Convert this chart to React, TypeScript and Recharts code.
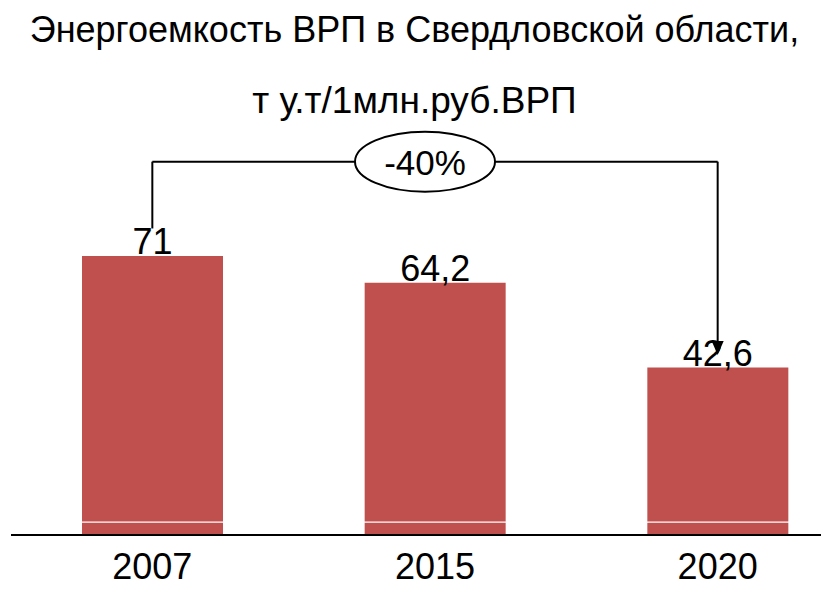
import React from 'react';
import { BarChart, Bar, XAxis, YAxis, LabelList, ReferenceLine, ReferenceDot } from 'recharts';

const years = ['2007', '2015', '2020'];
const intensity = [71, 64.2, 42.6];
const changeLabel = '-40%';
const titleLines = ['Энергоемкость ВРП в Свердловской области,', 'т у.т/1млн.руб.ВРП'];

const data = years.map((year, i) => ({ year, value: intensity[i] }));

const FONT = '"Liberation Sans", Arial, sans-serif';
const BAR_COLOR = '#C0504D';

const formatValue = (v: number) => String(v).replace('.', ',');

const ValueLabel = (props: any) => {
  const { x, y, width, value } = props;
  return (
    <text x={x + width / 2} y={y - 2} textAnchor="middle" fontSize={36} fontFamily={FONT} fill="#000">
      {formatValue(value)}
    </text>
  );
};

const Badge = (props: any) => {
  const { cx, cy } = props;
  const x = cx - 10;
  return (
    <g>
      <ellipse cx={x} cy={cy} rx={70} ry={30} fill="#fff" stroke="#000" strokeWidth={2} />
      <text x={x} y={cy + 13} textAnchor="middle" fontSize={35} fontFamily={FONT} fill="#000">
        {changeLabel}
      </text>
    </g>
  );
};

const ArrowHead = (props: any) => {
  const { cx, cy } = props;
  return <polygon points={`${cx - 6},${cy - 14} ${cx + 6},${cy - 14} ${cx},${cy}`} fill="#000" />;
};

function App() {
  return (
    <div style={{ position: 'relative', width: 821, height: 585, overflow: 'hidden' }}>
      <svg width={821} height={140} style={{ position: 'absolute', left: 0, top: 0 }}>
        <text x={406.5} y={34} textAnchor="middle" fontSize={36} fontFamily={FONT} fill="#000">
          {titleLines[0]}
        </text>
        <text x={406.5} y={105} textAnchor="middle" fontSize={37} fontFamily={FONT} fill="#000">
          {titleLines[1]}
        </text>
      </svg>
      <BarChart width={851} height={585} data={data} margin={{ top: 134, right: 0, bottom: 0, left: 3 }}>
        <XAxis
          dataKey="year"
          height={58}
          tickSize={0}
          tickMargin={18}
          tickLine={false}
          axisLine={{ stroke: '#000', strokeWidth: 2 }}
          tick={{ fill: '#000', fontSize: 36, fontFamily: FONT }}
        />
        <YAxis hide domain={[0, 100]} />
        <Bar dataKey="value" fill={BAR_COLOR} barSize={141} isAnimationActive={false}>
          <LabelList dataKey="value" content={ValueLabel} />
        </Bar>
        <ReferenceLine y={3.3} stroke="#fff" strokeWidth={1.2} />
        <ReferenceLine segment={[{ x: '2007', y: 78 }, { x: '2007', y: 95 }]} stroke="#000" strokeWidth={2} />
        <ReferenceLine segment={[{ x: '2007', y: 95 }, { x: '2020', y: 95 }]} stroke="#000" strokeWidth={2} />
        <ReferenceLine segment={[{ x: '2020', y: 95 }, { x: '2020', y: 47 }]} stroke="#000" strokeWidth={2} />
        <ReferenceDot x="2020" y={45.8} shape={ArrowHead} />
        <ReferenceDot x="2015" y={95} shape={Badge} />
      </BarChart>
    </div>
  );
}

export default App;
